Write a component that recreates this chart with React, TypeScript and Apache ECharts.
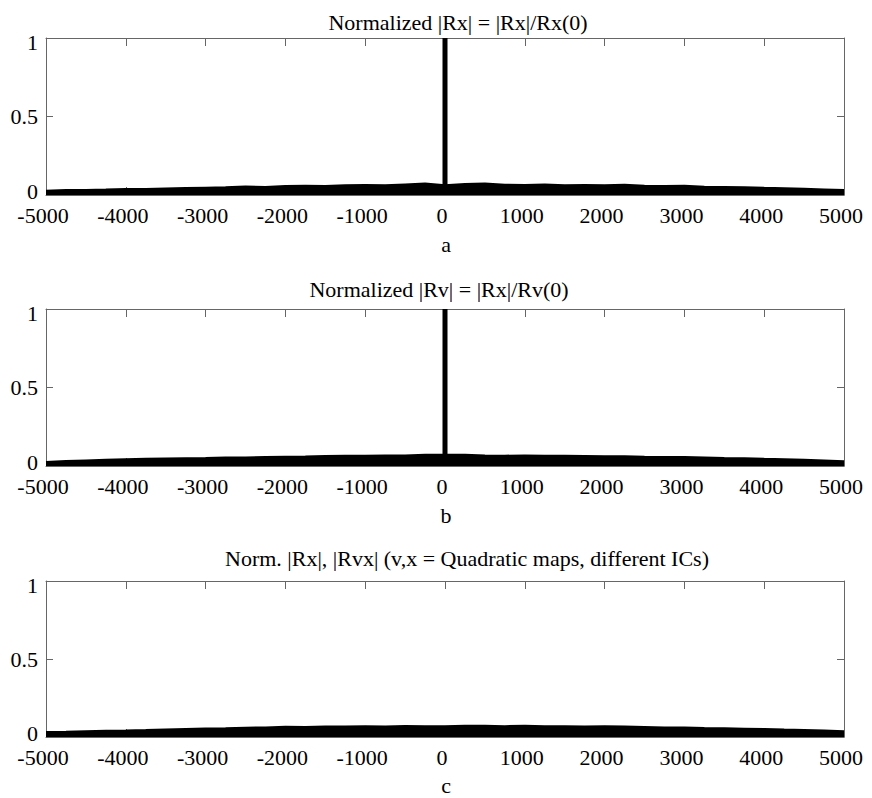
import React, { useEffect, useRef } from "react";
import * as echarts from "echarts";

const lags: number[] = [
  -5000, -4750, -4500, -4250, -4000, -3750, -3500, -3250, -3000, -2750, -2500,
  -2250, -2000, -1750, -1500, -1250, -1000, -750, -500, -250, 0, 250, 500, 750,
  1000, 1250, 1500, 1750, 2000, 2250, 2500, 2750, 3000, 3250, 3500, 3750, 4000,
  4250, 4500, 4750, 5000,
];

const bandA: number[] = [
  0.026, 0.03, 0.031, 0.033, 0.037, 0.036, 0.04, 0.043, 0.045, 0.047, 0.053,
  0.05, 0.055, 0.057, 0.055, 0.06, 0.062, 0.06, 0.066, 0.072, 0.06, 0.068,
  0.072, 0.064, 0.062, 0.066, 0.06, 0.062, 0.06, 0.063, 0.058, 0.056, 0.057,
  0.051, 0.05, 0.048, 0.044, 0.041, 0.038, 0.034, 0.03,
];

const bandB: number[] = [
  0.024, 0.03, 0.034, 0.038, 0.042, 0.044, 0.046, 0.048, 0.049, 0.052, 0.053,
  0.055, 0.057, 0.059, 0.062, 0.064, 0.063, 0.066, 0.066, 0.07, 0.07, 0.07,
  0.066, 0.064, 0.066, 0.063, 0.064, 0.062, 0.06, 0.061, 0.058, 0.056, 0.055,
  0.053, 0.05, 0.048, 0.044, 0.042, 0.038, 0.033, 0.028,
];

const bandC: number[] = [
  0.03, 0.032, 0.035, 0.038, 0.04, 0.043, 0.047, 0.05, 0.053, 0.055, 0.058,
  0.06, 0.064, 0.062, 0.066, 0.065, 0.068, 0.066, 0.069, 0.068, 0.068, 0.07,
  0.071, 0.068, 0.07, 0.067, 0.068, 0.066, 0.068, 0.066, 0.063, 0.06, 0.059,
  0.056, 0.054, 0.052, 0.05, 0.046, 0.043, 0.04, 0.036,
];

// zero-lag peak (normalized) for panels a and b
const peakLag = 0;
const peakA = 1;
const peakB = 1;

const titles: string[] = [
  "Normalized |Rx| = |Rx|/Rx(0)",
  "Normalized |Rv| = |Rx|/Rv(0)",
  "Norm. |Rx|, |Rvx| (v,x = Quadratic maps, different ICs)",
];
const panelLetters: string[] = ["a", "b", "c"];

const FONT = "serif";
const FS = 22;
const AXIS_COLOR = "#666";

export default function App() {
  const ref = useRef<HTMLDivElement>(null);

  useEffect(() => {
    if (!ref.current) return;
    const chart = echarts.init(ref.current, undefined, { renderer: "svg" });

    const grids = [
      { left: 46, top: 38, width: 800, height: 157 },
      { left: 46, top: 309, width: 800, height: 157 },
      { left: 46, top: 581, width: 800, height: 156 },
    ];
    const titlePos = [
      { x: 458, y: 22 },
      { x: 439, y: 289 },
      { x: 467, y: 558 },
    ];
    const letterY = [244, 515, 785];

    const xAxis: any[] = [];
    const yAxis: any[] = [];
    grids.forEach((_, i) => {
      xAxis.push({
        type: "value",
        gridIndex: i,
        position: "bottom",
        min: -5000,
        max: 5000,
        interval: 1000,
        axisLine: { show: true, onZero: false, lineStyle: { color: AXIS_COLOR, width: 1 } },
        axisTick: { show: true, inside: true, length: 8, lineStyle: { color: AXIS_COLOR } },
        splitLine: { show: false },
        axisLabel: {
          color: "#000",
          fontFamily: FONT,
          fontSize: FS,
          lineHeight: 16,
          margin: 12,
          padding: [0, 6, 0, 0],
          formatter: (v: number) => String(v),
        },
      });
      xAxis.push({
        type: "value",
        gridIndex: i,
        position: "top",
        min: -5000,
        max: 5000,
        interval: 1000,
        axisLine: { show: true, onZero: false, lineStyle: { color: AXIS_COLOR, width: 1 } },
        axisTick: { show: true, inside: true, length: 8, lineStyle: { color: AXIS_COLOR } },
        splitLine: { show: false },
        axisLabel: { show: false },
      });
      yAxis.push({
        type: "value",
        gridIndex: i,
        position: "left",
        min: 0,
        max: 1,
        interval: 0.5,
        axisLine: { show: true, onZero: false, lineStyle: { color: AXIS_COLOR, width: 1 } },
        axisTick: { show: true, inside: true, length: 7, lineStyle: { color: AXIS_COLOR } },
        splitLine: { show: false },
        axisLabel: {
          color: "#000",
          fontFamily: FONT,
          fontSize: FS,
          lineHeight: 8,
          margin: 8,
          verticalAlignMinLabel: "bottom",
          verticalAlignMaxLabel: "top",
          formatter: (v: number) => String(v),
        },
      });
      yAxis.push({
        type: "value",
        gridIndex: i,
        position: "right",
        min: 0,
        max: 1,
        interval: 0.5,
        axisLine: { show: true, onZero: false, lineStyle: { color: AXIS_COLOR, width: 1 } },
        axisTick: { show: true, inside: true, length: 7, lineStyle: { color: AXIS_COLOR } },
        splitLine: { show: false },
        axisLabel: { show: false },
      });
    });

    const bands = [bandA, bandB, bandC];
    const series: any[] = bands.map((b, i) => ({
      type: "line",
      xAxisIndex: i * 2,
      yAxisIndex: i * 2,
      data: lags.map((l, k) => [l, b[k]]),
      symbol: "none",
      lineStyle: { color: "#000", width: 2.5 },
      areaStyle: { color: "#000", opacity: 1 },
      z: 2,
    }));
    const peaks = [peakA, peakB];
    peaks.forEach((p, i) => {
      series.push({
        type: "line",
        xAxisIndex: i * 2,
        yAxisIndex: i * 2,
        data: [
          [peakLag, 0],
          [peakLag, p],
        ],
        symbol: "none",
        lineStyle: { color: "#000", width: 5 },
        clip: false,
        z: 3,
      });
    });

    const graphic: any[] = [];
    titles.forEach((t, i) => {
      graphic.push({
        type: "text",
        x: titlePos[i].x,
        y: titlePos[i].y,
        style: {
          text: t,
          fill: "#000",
          fontFamily: FONT,
          fontSize: FS,
          textAlign: "center",
          textVerticalAlign: "middle",
        },
      });
      graphic.push({
        type: "text",
        x: 446,
        y: letterY[i],
        style: {
          text: panelLetters[i],
          fill: "#000",
          fontFamily: FONT,
          fontSize: FS,
          textAlign: "center",
          textVerticalAlign: "middle",
        },
      });
    });

    chart.setOption({
      animation: false,
      backgroundColor: "#fff",
      grid: grids,
      xAxis,
      yAxis,
      series,
      graphic,
    });

    return () => chart.dispose();
  }, []);

  return (
    <div
      ref={ref}
      style={{ position: "absolute", left: 0, top: 0, width: 872, height: 798 }}
    />
  );
}
